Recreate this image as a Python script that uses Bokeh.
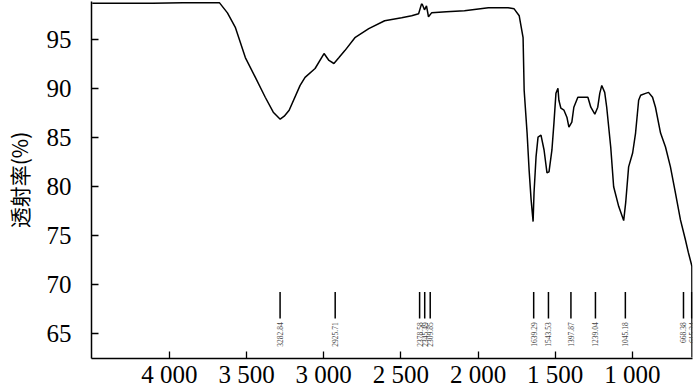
import math
from bokeh.plotting import figure
from bokeh.models import FixedTicker, Range1d
from bokeh.embed import file_html
from bokeh.resources import INLINE
from bokeh.core.properties import value

# Spectrum (wavenumber cm-1, transmittance %)
wavenumber = [4500, 4301, 4108, 3914, 3785, 3675, 3624, 3572, 3508, 3443, 3379, 3327,
              3282, 3256, 3224, 3153, 3121, 3056, 2998, 2966, 2934, 2901, 2863, 2798,
              2708, 2605, 2495, 2430, 2385, 2366, 2360, 2347, 2334, 2321, 2301, 2205,
              2088, 1933, 1804, 1766, 1733, 1708, 1701, 1682, 1669, 1656, 1643, 1637,
              1624, 1611, 1592, 1572, 1553, 1540, 1521, 1508, 1495, 1482, 1476, 1463,
              1443, 1424, 1411, 1392, 1379, 1353, 1321, 1288, 1269, 1243, 1224, 1211,
              1198, 1179, 1166, 1140, 1121, 1088, 1056, 1043, 1024, 998, 979, 959,
              946, 914, 895, 869, 850, 817, 785, 753, 721, 688, 656, 637, 617, 614, 613]
transmittance = [98.71, 98.71, 98.71, 98.76, 98.76, 98.76, 97.74, 96.22, 93.17, 91.14, 89.11, 87.58,
                 86.87, 87.17, 87.78, 90.32, 91.14, 92.05, 93.58, 92.87, 92.56, 93.17, 93.88, 95.20,
                 96.12, 96.93, 97.24, 97.44, 97.64, 98.66, 98.56, 98.05, 98.45, 97.34, 97.74, 97.85,
                 97.95, 98.25, 98.25, 98.15, 97.44, 95.20, 89.82, 85.45, 81.69, 78.64, 76.40, 79.35,
                 83.01, 85.04, 85.24, 83.72, 81.38, 81.48, 83.72, 86.46, 89.51, 90.02, 88.80, 87.99,
                 87.79, 87.07, 86.06, 86.56, 88.09, 89.11, 89.11, 89.11, 88.09, 87.38, 88.09, 89.51,
                 90.32, 89.61, 88.09, 84.02, 79.96, 77.93, 76.50, 78.33, 81.99, 83.41, 85.45, 88.80,
                 89.31, 89.51, 89.61, 89.11, 88.09, 85.45, 84.02, 81.99, 79.35, 76.57, 74.54, 73.25,
                 72.03, 71.83, 62.50]

# Peak markers
peak_positions = [3282.84, 2925.71, 2378.58, 2345.49, 2309.85, 1639.29, 1543.53,
                  1397.87, 1239.04, 1045.18, 668.38, 615.24]
peak_labels = ["3282.84", "2925.71", "2378.58", "2345.49", "2309.85", "1639.29", "1543.53",
               "1397.87", "1239.04", "1045.18", "668.38", "615.24"]

x_ticks = [1000, 1500, 2000, 2500, 3000, 3500, 4000]
x_tick_labels = ["1 000", "1 500", "2 000", "2 500", "3 000", "3 500", "4 000"]
y_ticks = [65, 70, 75, 80, 85, 90, 95]
y_label = "透射率(%)"

p = figure(width=700, height=390, output_backend="svg", toolbar_location=None,
           x_range=Range1d(4505, 610), y_range=Range1d(62.4, 98.9),
           min_border_left=88, min_border_right=8, min_border_top=1, min_border_bottom=30)
p.outline_line_color = None
p.xgrid.visible = False
p.ygrid.visible = False
p.background_fill_color = "white"
p.border_fill_color = "white"

p.line(wavenumber, transmittance, line_color="black", line_width=1.5)

n = len(peak_positions)
p.segment(x0=peak_positions, y0=[66.5] * n, x1=peak_positions, y1=[69.2] * n,
          line_color="black", line_width=1.5)
p.text(x=peak_positions, y=[66.1] * n, text=peak_labels, angle=math.pi / 2,
       text_align="right", text_baseline="middle", text_font_size="7.5px",
       text_color="#444444", text_font=value("Liberation Serif"))

serif = "Liberation Serif"
p.xaxis.ticker = FixedTicker(ticks=x_ticks)
p.xaxis.major_label_overrides = {t: l for t, l in zip(x_ticks, x_tick_labels)}
p.yaxis.ticker = FixedTicker(ticks=y_ticks)
for ax in (p.xaxis[0], p.yaxis[0]):
    ax.axis_line_color = "black"
    ax.axis_line_width = 1.5
    ax.major_tick_line_color = "black"
    ax.major_tick_line_width = 1.3
    ax.major_tick_in = 7
    ax.major_tick_out = 0
    ax.minor_tick_line_color = None
    ax.major_label_text_font = serif
    ax.major_label_text_color = "black"
    ax.major_label_text_font_size = "25px"

p.xaxis.major_label_standoff = 2
p.yaxis.major_label_standoff = 20
p.yaxis.axis_label = y_label
p.yaxis.axis_label_text_font = "Noto Sans CJK SC"
p.yaxis.axis_label_text_font_style = "normal"
p.yaxis.axis_label_text_font_size = "21px"
p.yaxis.axis_label_text_color = "black"
p.yaxis.axis_label_standoff = 10

open("out.html", "w").write(file_html(p, INLINE))
